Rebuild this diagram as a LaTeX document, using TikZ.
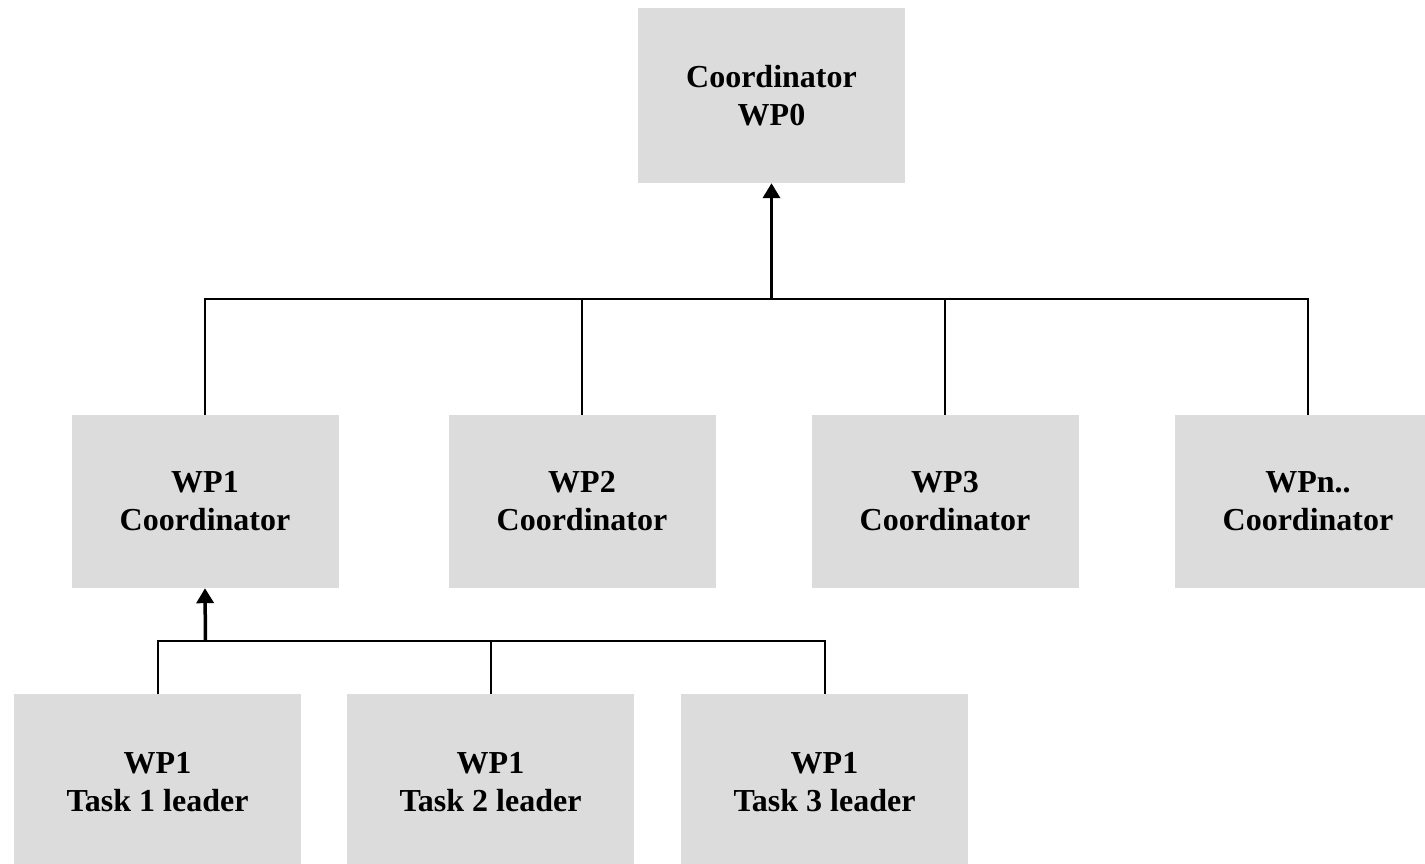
\documentclass[tikz,border=0pt]{standalone}
\usepackage{fontspec}
\setmainfont{Liberation Serif}
\usetikzlibrary{arrows.meta}
\definecolor{boxgray}{RGB}{220,220,220}
\tikzset{
  box/.style={fill=boxgray, draw=none, rectangle, inner sep=0pt, align=center,
    font=\fontsize{32}{38}\selectfont\bfseries},
  topbox/.style={box, minimum width=267pt, minimum height=175pt},
  midbox/.style={box, minimum width=267pt, minimum height=173pt},
  taskbox/.style={box, minimum width=287pt, minimum height=176pt},
  link/.style={draw=black, line width=2pt, line join=miter},
  uparrow/.style={draw=black, line width=3.5pt, -{Triangle[width=17pt,length=15pt]}}
}
\begin{document}
\begin{tikzpicture}[x=1pt,y=-1pt]
\useasboundingbox (0,0) rectangle (1425,864);
\clip (0,0) rectangle (1425,864);
\node[topbox] (wp0) at (771.5,95.5) {Coordinator\\WP0};
\node[midbox] (wp1) at (205,501.5) {WP1\\Coordinator};
\node[midbox] (wp2) at (582,501.5) {WP2\\Coordinator};
\node[midbox] (wp3) at (945,501.5) {WP3\\Coordinator};
\node[midbox] (wpn) at (1308,501.5) {WPn..\\Coordinator};
\node[taskbox] (t1) at (157.5,782) {WP1\\Task 1 leader};
\node[taskbox] (t2) at (490.5,782) {WP1\\Task 2 leader};
\node[taskbox] (t3) at (824.5,782) {WP1\\Task 3 leader};
\coordinate (busA) at (771.5,299);
\coordinate (busB) at (205.5,641);
% upper tree
\draw[link] (wp1.north) -- (wp1.north |- busA) -- (wpn.north |- busA) -- (wpn.north);
\draw[link] (wp2.north) -- (wp2.north |- busA);
\draw[link] (wp3.north) -- (wp3.north |- busA);
\draw[uparrow] (busA) -- (wp0.south);
% lower tree
\draw[link] (t1.north) -- (t1.north |- busB) -- (t3.north |- busB) -- (t3.north);
\draw[link] (t2.north) -- (t2.north |- busB);
\draw[uparrow] (busB) -- (wp1.south);
\end{tikzpicture}
\end{document}
